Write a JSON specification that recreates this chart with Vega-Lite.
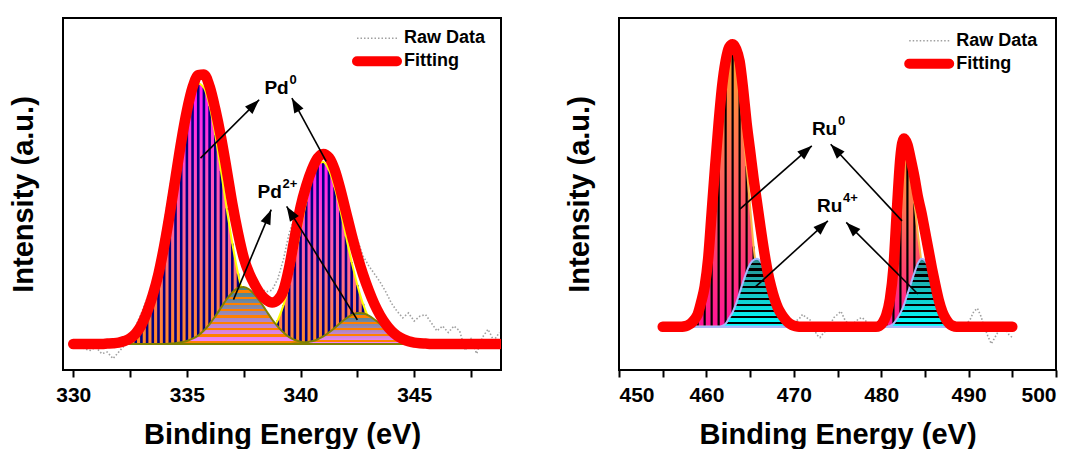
{
"$schema":"https://vega.github.io/schema/vega-lite/v6.json",
"background":"white",
"padding":{"left":8,"top":17,"right":0,"bottom":0},
"bounds":"flush",
"spacing":118,
"datasets":{
"L":[
{"x":330,"r":-1,"f":0,"a":0,"b":0,"c":0,"d":0},
{"x":330.25,"r":-0.5,"f":0,"a":0,"b":0,"c":0,"d":0},
{"x":330.5,"r":-1.5,"f":0,"a":0,"b":0,"c":0,"d":0},
{"x":330.75,"r":-2,"f":0,"a":0,"b":0,"c":0,"d":0},
{"x":331,"r":-1,"f":0,"a":0,"b":0,"c":0,"d":0},
{"x":331.25,"r":-3,"f":0,"a":0,"b":0,"c":0,"d":0},
{"x":331.5,"r":-2.5,"f":0.1,"a":0.1,"b":0,"c":0,"d":0},
{"x":331.75,"r":-4.5,"f":0.2,"a":0.2,"b":0,"c":0,"d":0},
{"x":332,"r":-2.5,"f":0.4,"a":0.4,"b":0,"c":0,"d":0},
{"x":332.25,"r":-0.5,"f":0.9,"a":0.9,"b":0,"c":0,"d":0},
{"x":332.5,"r":2,"f":1.7,"a":1.7,"b":0,"c":0,"d":0},
{"x":332.75,"r":5.5,"f":3.2,"a":3.1,"b":0,"c":0,"d":0},
{"x":333,"r":9.5,"f":5.8,"a":5.4,"b":0,"c":0,"d":0},
{"x":333.25,"r":14,"f":9.8,"a":9,"b":0,"c":0,"d":0},
{"x":333.5,"r":19,"f":15,"a":14.1,"b":0,"c":0,"d":0},
{"x":333.75,"r":27,"f":21.5,"a":21,"b":0,"c":0,"d":0},
{"x":334,"r":37,"f":30,"a":29.6,"b":0,"c":0,"d":0},
{"x":334.25,"r":48,"f":40,"a":39.8,"b":0,"c":0.1,"d":0},
{"x":334.5,"r":58,"f":51,"a":50.7,"b":0,"c":0.2,"d":0},
{"x":334.75,"r":67,"f":62,"a":61.4,"b":0,"c":0.5,"d":0},
{"x":335,"r":75,"f":71.5,"a":70.6,"b":0,"c":0.9,"d":0},
{"x":335.25,"r":80,"f":78.7,"a":77.1,"b":0,"c":1.6,"d":0},
{"x":335.5,"r":82,"f":82.5,"a":79.9,"b":0,"c":2.6,"d":0},
{"x":335.75,"r":81,"f":82.7,"a":78.6,"b":0,"c":4.1,"d":0},
{"x":336,"r":77,"f":79,"a":73,"b":0,"c":6.1,"d":0},
{"x":336.25,"r":70,"f":72,"a":64.1,"b":0,"c":8.5,"d":0},
{"x":336.5,"r":61,"f":63.5,"a":53.1,"b":0,"c":11.1,"d":0},
{"x":336.75,"r":52,"f":53.5,"a":41.6,"b":0,"c":13.7,"d":0},
{"x":337,"r":43,"f":43,"a":30.8,"b":0,"c":15.8,"d":0},
{"x":337.25,"r":36,"f":34,"a":21.6,"b":0,"c":17.2,"d":0},
{"x":337.5,"r":29,"f":26.5,"a":14.3,"b":0.1,"c":17.5,"d":0},
{"x":337.75,"r":24,"f":21.5,"a":8.9,"b":0.2,"c":16.7,"d":0},
{"x":338,"r":20,"f":18,"a":5.3,"b":0.5,"c":15,"d":0},
{"x":338.25,"r":17,"f":15.2,"a":2.9,"b":1.1,"c":12.7,"d":0},
{"x":338.5,"r":16,"f":13.5,"a":1.5,"b":2.2,"c":10.1,"d":0},
{"x":338.75,"r":16.5,"f":12.7,"a":0.8,"b":4.1,"c":7.5,"d":0},
{"x":339,"r":20,"f":13.5,"a":0.4,"b":7.3,"c":5.3,"d":0},
{"x":339.25,"r":26,"f":16.5,"a":0.2,"b":11.9,"c":3.5,"d":0},
{"x":339.5,"r":34,"f":23.5,"a":0.1,"b":18.3,"c":2.1,"d":0},
{"x":339.75,"r":39,"f":33,"a":0,"b":26.2,"c":1.2,"d":0.1},
{"x":340,"r":44,"f":42,"a":0,"b":35,"c":0.7,"d":0.2},
{"x":340.25,"r":50,"f":48.5,"a":0,"b":43.7,"c":0.4,"d":0.5},
{"x":340.5,"r":54,"f":53.5,"a":0,"b":50.8,"c":0.2,"d":0.8},
{"x":340.75,"r":57,"f":57,"a":0,"b":55.1,"c":0.1,"d":1.4},
{"x":341,"r":58,"f":58.3,"a":0,"b":55.8,"c":0,"d":2.3},
{"x":341.25,"r":57,"f":57.2,"a":0,"b":53.3,"c":0,"d":3.5},
{"x":341.5,"r":54,"f":53.5,"a":0,"b":48.1,"c":0,"d":4.9},
{"x":341.75,"r":49,"f":47.5,"a":0,"b":41,"c":0,"d":6.4},
{"x":342,"r":43,"f":40.5,"a":0,"b":33,"c":0,"d":7.8},
{"x":342.25,"r":37,"f":33.5,"a":0,"b":25.1,"c":0,"d":8.9},
{"x":342.5,"r":32,"f":27,"a":0,"b":18.1,"c":0,"d":9.5},
{"x":342.75,"r":27,"f":21.3,"a":0,"b":12.3,"c":0,"d":9.4},
{"x":343,"r":24,"f":16.4,"a":0,"b":7.9,"c":0,"d":8.7},
{"x":343.25,"r":21.5,"f":12.2,"a":0,"b":4.8,"c":0,"d":7.5},
{"x":343.5,"r":19,"f":8.8,"a":0,"b":2.7,"c":0,"d":6.1},
{"x":343.75,"r":16,"f":6.1,"a":0,"b":1.5,"c":0,"d":4.6},
{"x":344,"r":12.5,"f":4,"a":0,"b":0.8,"c":0,"d":3.2},
{"x":344.25,"r":10,"f":2.5,"a":0,"b":0.4,"c":0,"d":2.1},
{"x":344.5,"r":8,"f":1.5,"a":0,"b":0.2,"c":0,"d":1.3},
{"x":344.75,"r":9.5,"f":0.8,"a":0,"b":0.1,"c":0,"d":0.7},
{"x":345,"r":7,"f":0.4,"a":0,"b":0,"c":0,"d":0.4},
{"x":345.25,"r":8.5,"f":0.2,"a":0,"b":0,"c":0,"d":0.2},
{"x":345.5,"r":9,"f":0.1,"a":0,"b":0,"c":0,"d":0.1},
{"x":345.75,"r":6.5,"f":0,"a":0,"b":0,"c":0,"d":0},
{"x":346,"r":4,"f":0,"a":0,"b":0,"c":0,"d":0},
{"x":346.25,"r":5.5,"f":0,"a":0,"b":0,"c":0,"d":0},
{"x":346.5,"r":3.5,"f":0,"a":0,"b":0,"c":0,"d":0},
{"x":346.75,"r":5.5,"f":0,"a":0,"b":0,"c":0,"d":0},
{"x":347,"r":4,"f":0,"a":0,"b":0,"c":0,"d":0},
{"x":347.25,"r":-2,"f":0,"a":0,"b":0,"c":0,"d":0},
{"x":347.5,"r":1.5,"f":0,"a":0,"b":0,"c":0,"d":0},
{"x":347.75,"r":-3,"f":0,"a":0,"b":0,"c":0,"d":0},
{"x":348,"r":2,"f":0,"a":0,"b":0,"c":0,"d":0},
{"x":348.25,"r":4.5,"f":0,"a":0,"b":0,"c":0,"d":0},
{"x":348.5,"r":1,"f":0,"a":0,"b":0,"c":0,"d":0},
{"x":348.75,"r":3.5,"f":0,"a":0,"b":0,"c":0,"d":0}
],
"R":[
{"x":455,"r":0.3,"f":0,"a":0,"b":0,"c":0,"d":0},
{"x":455.4,"r":-0.3,"f":0,"a":0,"b":0,"c":0,"d":0},
{"x":455.8,"r":0.5,"f":0,"a":0,"b":0,"c":0,"d":0},
{"x":456.2,"r":0,"f":0,"a":0,"b":0,"c":0,"d":0},
{"x":456.6,"r":1,"f":0,"a":0,"b":0,"c":0,"d":0},
{"x":457,"r":1.5,"f":0,"a":0,"b":0,"c":0,"d":0},
{"x":457.4,"r":0.8,"f":0.1,"a":0,"b":0,"c":0,"d":0},
{"x":457.8,"r":1.5,"f":0.4,"a":0.2,"b":0,"c":0,"d":0},
{"x":458.2,"r":1.8,"f":1,"a":0.6,"b":0,"c":0,"d":0},
{"x":458.6,"r":3,"f":2.2,"a":1.6,"b":0,"c":0,"d":0},
{"x":459,"r":5,"f":4,"a":3,"b":0,"c":0,"d":0},
{"x":459.4,"r":8.5,"f":8,"a":6.5,"b":0,"c":0,"d":0},
{"x":459.8,"r":14,"f":13,"a":11,"b":0,"c":0,"d":0},
{"x":460.2,"r":23,"f":22,"a":19.5,"b":0,"c":0,"d":0},
{"x":460.6,"r":37,"f":37,"a":34,"b":0,"c":0,"d":0},
{"x":461,"r":52,"f":52,"a":49,"b":0,"c":0,"d":0},
{"x":461.4,"r":66,"f":66,"a":63,"b":0,"c":0,"d":0},
{"x":461.8,"r":78,"f":78,"a":75,"b":0,"c":0.3,"d":0},
{"x":462.2,"r":86,"f":86,"a":83,"b":0,"c":1,"d":0},
{"x":462.6,"r":90,"f":90.5,"a":87.5,"b":0,"c":2.8,"d":0},
{"x":463,"r":91,"f":91.5,"a":88.5,"b":0,"c":4.7,"d":0},
{"x":463.4,"r":90,"f":90,"a":86.5,"b":0,"c":7.5,"d":0},
{"x":463.8,"r":86,"f":86,"a":77,"b":0,"c":11,"d":0},
{"x":464.2,"r":77,"f":77,"a":64,"b":0,"c":14.5,"d":0},
{"x":464.6,"r":66,"f":66,"a":52,"b":0,"c":17.8,"d":0},
{"x":465,"r":57,"f":57,"a":39,"b":0,"c":20.3,"d":0},
{"x":465.4,"r":48,"f":48,"a":26,"b":0,"c":21.7,"d":0},
{"x":465.8,"r":40,"f":40,"a":17,"b":0,"c":22,"d":0},
{"x":466.2,"r":32,"f":32,"a":11,"b":0,"c":21.2,"d":0},
{"x":466.6,"r":25,"f":24.5,"a":6.5,"b":0,"c":19,"d":0},
{"x":467,"r":18,"f":18,"a":3.8,"b":0,"c":15.8,"d":0},
{"x":467.4,"r":13,"f":13,"a":2,"b":0,"c":12,"d":0},
{"x":467.8,"r":9,"f":9,"a":1,"b":0,"c":8.5,"d":0},
{"x":468.2,"r":6,"f":6,"a":0.4,"b":0,"c":5.5,"d":0},
{"x":468.6,"r":4,"f":4,"a":0.1,"b":0,"c":3.2,"d":0},
{"x":469,"r":2.5,"f":2.5,"a":0,"b":0,"c":1.6,"d":0},
{"x":469.4,"r":1.5,"f":1.3,"a":0,"b":0,"c":0.7,"d":0},
{"x":469.8,"r":1,"f":0.6,"a":0,"b":0,"c":0.2,"d":0},
{"x":470.2,"r":1.8,"f":0.2,"a":0,"b":0,"c":0,"d":0},
{"x":470.6,"r":2.5,"f":0,"a":0,"b":0,"c":0,"d":0},
{"x":471,"r":4,"f":0,"a":0,"b":0,"c":0,"d":0},
{"x":471.4,"r":3,"f":0,"a":0,"b":0,"c":0,"d":0},
{"x":471.8,"r":2.5,"f":0,"a":0,"b":0,"c":0,"d":0},
{"x":472.2,"r":0.5,"f":0,"a":0,"b":0,"c":0,"d":0},
{"x":472.6,"r":-2.5,"f":0,"a":0,"b":0,"c":0,"d":0},
{"x":473,"r":-3.5,"f":0,"a":0,"b":0,"c":0,"d":0},
{"x":473.4,"r":-2,"f":0,"a":0,"b":0,"c":0,"d":0},
{"x":473.8,"r":-1,"f":0,"a":0,"b":0,"c":0,"d":0},
{"x":474.2,"r":1,"f":0,"a":0,"b":0,"c":0,"d":0},
{"x":474.6,"r":3,"f":0,"a":0,"b":0,"c":0,"d":0},
{"x":475,"r":4,"f":0,"a":0,"b":0,"c":0,"d":0},
{"x":475.4,"r":5,"f":0,"a":0,"b":0,"c":0,"d":0},
{"x":475.8,"r":2.5,"f":0,"a":0,"b":0,"c":0,"d":0},
{"x":476.2,"r":1,"f":0,"a":0,"b":0,"c":0,"d":0},
{"x":476.6,"r":0.5,"f":0,"a":0,"b":0,"c":0,"d":0},
{"x":477,"r":1.5,"f":0,"a":0,"b":0,"c":0,"d":0},
{"x":477.4,"r":2.5,"f":0,"a":0,"b":0,"c":0,"d":0},
{"x":477.8,"r":3,"f":0,"a":0,"b":0,"c":0,"d":0},
{"x":478.2,"r":2,"f":0,"a":0,"b":0,"c":0,"d":0},
{"x":478.6,"r":0.5,"f":0,"a":0,"b":0,"c":0,"d":0},
{"x":479,"r":0.5,"f":0,"a":0,"b":0,"c":0,"d":0},
{"x":479.4,"r":1,"f":0,"a":0,"b":0,"c":0,"d":0},
{"x":479.8,"r":1.5,"f":0.3,"a":0,"b":0,"c":0,"d":0},
{"x":480.2,"r":2.5,"f":1.5,"a":0,"b":1,"c":0,"d":0},
{"x":480.6,"r":5,"f":4,"a":0,"b":3,"c":0,"d":0},
{"x":481,"r":10,"f":9,"a":0,"b":7.5,"c":0,"d":0.3},
{"x":481.4,"r":20,"f":19,"a":0,"b":17,"c":0,"d":1},
{"x":481.8,"r":38,"f":38,"a":0,"b":35,"c":0,"d":2.5},
{"x":482.2,"r":55,"f":55,"a":0,"b":50.5,"c":0,"d":4.5},
{"x":482.6,"r":61,"f":61,"a":0,"b":57,"c":0,"d":7},
{"x":483,"r":59,"f":59,"a":0,"b":55,"c":0,"d":10.5},
{"x":483.4,"r":54,"f":54,"a":0,"b":48,"c":0,"d":14},
{"x":483.8,"r":48.5,"f":48.5,"a":0,"b":40,"c":0,"d":17.5},
{"x":484.2,"r":42,"f":42,"a":0,"b":30,"c":0,"d":20.5},
{"x":484.6,"r":37,"f":37,"a":0,"b":21,"c":0,"d":22},
{"x":485,"r":31,"f":31,"a":0,"b":13,"c":0,"d":21.5},
{"x":485.4,"r":25,"f":25,"a":0,"b":7.5,"c":0,"d":19.5},
{"x":485.8,"r":19,"f":19,"a":0,"b":4,"c":0,"d":16.5},
{"x":486.2,"r":13.5,"f":13.5,"a":0,"b":2,"c":0,"d":12.5},
{"x":486.6,"r":8.5,"f":8.5,"a":0,"b":0.8,"c":0,"d":8.5},
{"x":487,"r":5,"f":4.8,"a":0,"b":0.3,"c":0,"d":4.8},
{"x":487.4,"r":2.5,"f":2.5,"a":0,"b":0,"c":0,"d":2.3},
{"x":487.8,"r":1.5,"f":1,"a":0,"b":0,"c":0,"d":0.9},
{"x":488.2,"r":1.5,"f":0.3,"a":0,"b":0,"c":0,"d":0.3},
{"x":488.6,"r":0.5,"f":0,"a":0,"b":0,"c":0,"d":0},
{"x":489,"r":0,"f":0,"a":0,"b":0,"c":0,"d":0},
{"x":489.4,"r":0.5,"f":0,"a":0,"b":0,"c":0,"d":0},
{"x":489.8,"r":1,"f":0,"a":0,"b":0,"c":0,"d":0},
{"x":490.2,"r":2.5,"f":0,"a":0,"b":0,"c":0,"d":0},
{"x":490.6,"r":5,"f":0,"a":0,"b":0,"c":0,"d":0},
{"x":491,"r":6,"f":0,"a":0,"b":0,"c":0,"d":0},
{"x":491.4,"r":3.5,"f":0,"a":0,"b":0,"c":0,"d":0},
{"x":491.8,"r":0,"f":0,"a":0,"b":0,"c":0,"d":0},
{"x":492.2,"r":-3,"f":0,"a":0,"b":0,"c":0,"d":0},
{"x":492.6,"r":-5.5,"f":0,"a":0,"b":0,"c":0,"d":0},
{"x":493,"r":-3.5,"f":0,"a":0,"b":0,"c":0,"d":0},
{"x":493.4,"r":-1.5,"f":0,"a":0,"b":0,"c":0,"d":0},
{"x":493.8,"r":0.5,"f":0,"a":0,"b":0,"c":0,"d":0},
{"x":494.2,"r":-0.5,"f":0,"a":0,"b":0,"c":0,"d":0},
{"x":494.6,"r":-2.5,"f":0,"a":0,"b":0,"c":0,"d":0},
{"x":495,"r":-3.5,"f":0,"a":0,"b":0,"c":0,"d":0}
],
"LA":[
{"x":335.6,"y":57.0,"x2":338.18,"y2":74.9},
{"x":341.13,"y":56.0,"x2":339.62,"y2":75.4},
{"x":337.05,"y":13.6,"x2":338.71,"y2":41.2},
{"x":342.5,"y":7.4,"x2":339.39,"y2":42.2}
],
"RA":[
{"x":463.83,"y":38.1,"x2":472.06,"y2":58.6},
{"x":482.38,"y":34.3,"x2":474.22,"y2":59.1},
{"x":465.6,"y":12.9,"x2":473.9,"y2":34.3},
{"x":484.2,"y":10.6,"x2":476.0,"y2":33.8}
],
"LT":[
{"x":338.41,"y":78.4,"t":"Pd","s":"0"},
{"x":338.11,"y":46.6,"t":"Pd","s":"2+"}
],
"RT":[
{"x":472.07,"y":64.0,"t":"Ru","s":"0"},
{"x":472.65,"y":39.2,"t":"Ru","s":"4+"}
]
},
"hconcat":[
{
"width":438,"height":352,
"layer":[
{"data":{"name":"L"},
"mark":{"type":"line","strokeDash":[1.5,2],"strokeWidth":1.6},
"encoding":{
"x":{"field":"x","type":"quantitative","scale":{"domain":[329.55,348.82],"nice":false,"zero":false}},
"y":{"field":"r","type":"quantitative","scale":{"domain":[-8,100],"nice":false,"zero":false}},
"color":{"datum":"Raw Data","type":"nominal","scale":{"domain":["Raw Data","Fitting"],"range":["#a0a0a0","#ff0000"]},
"legend":{"title":null,"orient":"none","legendX":305,"legendY":11.3,"symbolType":"stroke","symbolSize":1600,"labelFontSize":18,"labelFontWeight":"bold","labelFont":"Liberation Sans","labelColor":"black","labelOffset":18,"rowPadding":-6,"padding":0,
"encode":{"symbols":{"update":{"strokeDash":{"signal":"datum.value === 'Raw Data' ? [1.5,2] : [1,0]"},"strokeWidth":{"signal":"datum.value === 'Raw Data' ? 1.6 : 10"},"strokeCap":{"signal":"datum.value === 'Raw Data' ? 'butt' : 'round'"}}}}}}
}},
{"data":{"name":"L"},
"transform":[{"fold":["a","b"],"as":["k","v"]}],
"mark":{"type":"area","interpolate":"monotone","fill":{"gradient":"linear","x1":0,"y1":0,"x2":0,"y2":1,"stops":[{"offset":0,"color":"#ff14ff"},{"offset":0.35,"color":"#ff4fc0"},{"offset":0.65,"color":"#ff6d88"},{"offset":1,"color":"#ff8a24"}]}},
"encoding":{"x":{"field":"x","type":"quantitative"},"y":{"field":"v","type":"quantitative"},"y2":{"datum":0},"detail":{"field":"k"}}},
{"data":{"name":"L"},
"transform":[{"fold":["a","b"],"as":["k","v"]},{"filter":"datum.v > 0.5"}],
"mark":{"type":"rule","color":"#000080","strokeWidth":2.6},
"encoding":{"x":{"field":"x","type":"quantitative"},"y":{"field":"v","type":"quantitative"},"y2":{"datum":0}}},
{"data":{"name":"L"},
"transform":[{"fold":["a","b"],"as":["k","v"]}],
"mark":{"type":"line","interpolate":"monotone","color":"#ffff00","strokeWidth":2},
"encoding":{"x":{"field":"x","type":"quantitative"},"y":{"field":"v","type":"quantitative"},"detail":{"field":"k"}}},
{"data":{"name":"L"},
"mark":{"type":"area","interpolate":"monotone","stroke":"#808000","strokeWidth":2,"fill":{"gradient":"linear","x1":0,"y1":0,"x2":0,"y2":1,"stops":[
{"offset":0,"color":"#3f8585"},{"offset":0.06,"color":"#4b858b"},{"offset":0.06,"color":"#ff8000"},{"offset":0.1,"color":"#ff8000"},
{"offset":0.1,"color":"#52868f"},{"offset":0.17,"color":"#608696"},{"offset":0.17,"color":"#ff8000"},{"offset":0.21,"color":"#ff8000"},
{"offset":0.21,"color":"#68869a"},{"offset":0.28,"color":"#7587a2"},{"offset":0.28,"color":"#ff8000"},{"offset":0.32,"color":"#ff8000"},
{"offset":0.32,"color":"#7d87a6"},{"offset":0.39,"color":"#8b87ad"},{"offset":0.39,"color":"#ff8000"},{"offset":0.43,"color":"#ff8000"},
{"offset":0.43,"color":"#9288b1"},{"offset":0.5,"color":"#a088b8"},{"offset":0.5,"color":"#ff8000"},{"offset":0.54,"color":"#ff8000"},
{"offset":0.54,"color":"#a887be"},{"offset":0.61,"color":"#b586c8"},{"offset":0.61,"color":"#ff8000"},{"offset":0.65,"color":"#ff8000"},
{"offset":0.65,"color":"#bc86cd"},{"offset":0.72,"color":"#ca84d7"},{"offset":0.72,"color":"#ff8000"},{"offset":0.76,"color":"#ff8000"},
{"offset":0.76,"color":"#d184dd"},{"offset":0.83,"color":"#df83e7"},{"offset":0.83,"color":"#ff8000"},{"offset":0.87,"color":"#ff8000"},
{"offset":0.87,"color":"#e682ed"},{"offset":0.94,"color":"#f481f6"},{"offset":0.94,"color":"#ff8000"},{"offset":0.98,"color":"#ff8000"},
{"offset":0.98,"color":"#fb80fc"},{"offset":1,"color":"#ff80ff"}]}},
"encoding":{"x":{"field":"x","type":"quantitative"},"y":{"field":"c","type":"quantitative"},"y2":{"datum":0}}},
{"data":{"name":"L"},
"mark":{"type":"area","interpolate":"monotone","stroke":"#808000","strokeWidth":2,"fill":{"gradient":"linear","x1":0,"y1":0,"x2":0,"y2":1,"stops":[
{"offset":0,"color":"#3f8585"},{"offset":0.08,"color":"#4e858d"},{"offset":0.08,"color":"#ff8000"},{"offset":0.16,"color":"#ff8000"},
{"offset":0.16,"color":"#5e8695"},{"offset":0.28,"color":"#7587a2"},{"offset":0.28,"color":"#ff8000"},{"offset":0.36,"color":"#ff8000"},
{"offset":0.36,"color":"#8587aa"},{"offset":0.48,"color":"#9c88b6"},{"offset":0.48,"color":"#ff8000"},{"offset":0.56,"color":"#ff8000"},
{"offset":0.56,"color":"#ab87c0"},{"offset":0.68,"color":"#c285d2"},{"offset":0.68,"color":"#ff8000"},{"offset":0.76,"color":"#ff8000"},
{"offset":0.76,"color":"#d184dd"},{"offset":0.88,"color":"#e882ee"},{"offset":0.88,"color":"#ff8000"},{"offset":0.95,"color":"#ff8000"},
{"offset":0.95,"color":"#f581f8"},{"offset":1,"color":"#ff80ff"}]}},
"encoding":{"x":{"field":"x","type":"quantitative"},"y":{"field":"d","type":"quantitative"},"y2":{"datum":0}}},
{"data":{"name":"L"},
"mark":{"type":"line","interpolate":"monotone","strokeWidth":10.5,"strokeCap":"round","strokeJoin":"round","clip":true},
"encoding":{
"x":{"field":"x","type":"quantitative","axis":{"values":[330,332.5,335,337.5,340,342.5,345,347.5],"labelExpr":"datum.value % 5 === 0 ? datum.label : ''","title":"Binding Energy (eV)","tickSize":7,"labelPadding":7,"titlePadding":15,"domain":false,"grid":false,
"encode":{"ticks":{"update":{"y2":{"signal":"datum.value % 5 === 0 ? 7 : 4"}}}}}},
"y":{"field":"f","type":"quantitative","axis":{"title":"Intensity (a.u.)","ticks":false,"labels":false,"domain":false,"grid":false,"titlePadding":25}},
"color":{"datum":"Fitting","type":"nominal"}}},
{"data":{"name":"LA"},
"mark":{"type":"rule","color":"black","strokeWidth":1.6},
"encoding":{"x":{"field":"x","type":"quantitative"},"y":{"field":"y","type":"quantitative"},"x2":{"field":"x2"},"y2":{"field":"y2"}}},
{"data":{"name":"LA"},
"transform":[{"calculate":"atan2((datum.x2-datum.x)*22.73,(datum.y2-datum.y)*3.26)*180/PI","as":"ang"}],
"mark":{"type":"point","shape":"M0,0L-0.75,2.1L0.75,2.1Z","filled":true,"color":"black","opacity":1,"size":196,"strokeWidth":0},
"encoding":{"x":{"field":"x2","type":"quantitative"},"y":{"field":"y2","type":"quantitative"},"angle":{"field":"ang","type":"quantitative","scale":null}}},
{"data":{"name":"LT"},
"mark":{"type":"text","font":"Liberation Sans","fontWeight":"bold","fontSize":19,"color":"black","align":"left","baseline":"middle"},
"encoding":{"x":{"field":"x","type":"quantitative"},"y":{"field":"y","type":"quantitative"},"text":{"field":"t"}}},
{"data":{"name":"LT"},
"mark":{"type":"text","font":"Liberation Sans","fontWeight":"bold","fontSize":13,"color":"black","align":"left","baseline":"middle","dx":25,"dy":-8},
"encoding":{"x":{"field":"x","type":"quantitative"},"y":{"field":"y","type":"quantitative"},"text":{"field":"s"}}}
]
},
{
"width":437,"height":352,
"layer":[
{"data":{"name":"R"},
"mark":{"type":"line","strokeDash":[1.5,2],"strokeWidth":1.6},
"encoding":{
"x":{"field":"x","type":"quantitative","scale":{"domain":[450,500],"nice":false,"zero":false}},
"y":{"field":"r","type":"quantitative","scale":{"domain":[-14,100],"nice":false,"zero":false}},
"color":{"datum":"Raw Data","type":"nominal","scale":{"domain":["Raw Data","Fitting"],"range":["#a0a0a0","#ff0000"]},
"legend":{"title":null,"orient":"none","legendX":301.2,"legendY":13.7,"symbolType":"stroke","symbolSize":1600,"labelFontSize":18,"labelFontWeight":"bold","labelFont":"Liberation Sans","labelColor":"black","labelOffset":18,"rowPadding":-6,"padding":0,
"encode":{"symbols":{"update":{"strokeDash":{"signal":"datum.value === 'Raw Data' ? [1.5,2] : [1,0]"},"strokeWidth":{"signal":"datum.value === 'Raw Data' ? 1.6 : 10"},"strokeCap":{"signal":"datum.value === 'Raw Data' ? 'butt' : 'round'"}}}}}}
}},
{"data":{"name":"R"},
"transform":[{"fold":["a","b"],"as":["k","v"]}],
"mark":{"type":"area","interpolate":"monotone","fill":{"gradient":"linear","x1":0,"y1":0,"x2":0,"y2":1,"stops":[{"offset":0,"color":"#ffa030"},{"offset":0.4,"color":"#ff6a58"},{"offset":0.7,"color":"#ff4070"},{"offset":1,"color":"#ff1496"}]}},
"encoding":{"x":{"field":"x","type":"quantitative"},"y":{"field":"v","type":"quantitative"},"y2":{"datum":0},"detail":{"field":"k"}}},
{"data":{"name":"R"},
"transform":[{"window":[{"op":"row_number","as":"i"}]},{"filter":"datum.i % 2 == 1"},{"fold":["a","b"],"as":["k","v"]},{"filter":"datum.v > 0.5"}],
"mark":{"type":"rule","color":"black","strokeWidth":2.2},
"encoding":{"x":{"field":"x","type":"quantitative"},"y":{"field":"v","type":"quantitative"},"y2":{"datum":0}}},
{"data":{"name":"R"},
"transform":[{"fold":["a","b"],"as":["k","v"]}],
"mark":{"type":"line","interpolate":"monotone","color":"#ffb347","strokeWidth":2},
"encoding":{"x":{"field":"x","type":"quantitative"},"y":{"field":"v","type":"quantitative"},"detail":{"field":"k"}}},
{"data":{"name":"R"},
"transform":[{"fold":["c","d"],"as":["k","v"]}],
"mark":{"type":"area","interpolate":"monotone","stroke":"#a8b8ff","strokeWidth":2,"fill":{"gradient":"linear","x1":0,"y1":0,"x2":0,"y2":1,"stops":[
{"offset":0,"color":"#2a8a8a"},{"offset":0.055,"color":"#289090"},{"offset":0.055,"color":"#000000"},{"offset":0.087,"color":"#000000"},
{"offset":0.087,"color":"#269494"},{"offset":0.142,"color":"#249b9b"},{"offset":0.142,"color":"#000000"},{"offset":0.174,"color":"#000000"},
{"offset":0.174,"color":"#239e9e"},{"offset":0.229,"color":"#20a5a5"},{"offset":0.229,"color":"#000000"},{"offset":0.261,"color":"#000000"},
{"offset":0.261,"color":"#1fa9a9"},{"offset":0.316,"color":"#1dafaf"},{"offset":0.316,"color":"#000000"},{"offset":0.348,"color":"#000000"},
{"offset":0.348,"color":"#1bb3b3"},{"offset":0.403,"color":"#19b9b9"},{"offset":0.403,"color":"#000000"},{"offset":0.435,"color":"#000000"},
{"offset":0.435,"color":"#18bdbd"},{"offset":0.49,"color":"#15c3c3"},{"offset":0.49,"color":"#000000"},{"offset":0.522,"color":"#000000"},
{"offset":0.522,"color":"#14c7c7"},{"offset":0.577,"color":"#12cece"},{"offset":0.577,"color":"#000000"},{"offset":0.609,"color":"#000000"},
{"offset":0.609,"color":"#10d1d1"},{"offset":0.664,"color":"#0ed8d8"},{"offset":0.664,"color":"#000000"},{"offset":0.696,"color":"#000000"},
{"offset":0.696,"color":"#0ddbdb"},{"offset":0.751,"color":"#0ae2e2"},{"offset":0.751,"color":"#000000"},{"offset":0.783,"color":"#000000"},
{"offset":0.783,"color":"#09e6e6"},{"offset":0.838,"color":"#07ecec"},{"offset":0.838,"color":"#000000"},{"offset":0.87,"color":"#000000"},
{"offset":0.87,"color":"#05f0f0"},{"offset":0.925,"color":"#03f6f6"},{"offset":0.925,"color":"#000000"},{"offset":0.957,"color":"#000000"},
{"offset":0.957,"color":"#02fafa"},{"offset":1,"color":"#00ffff"}]}},
"encoding":{"x":{"field":"x","type":"quantitative"},"y":{"field":"v","type":"quantitative"},"y2":{"datum":0},"detail":{"field":"k"}}},
{"data":{"name":"R"},
"mark":{"type":"line","interpolate":"monotone","strokeWidth":10.5,"strokeCap":"round","strokeJoin":"round"},
"encoding":{
"x":{"field":"x","type":"quantitative","axis":{"values":[450,455,460,465,470,475,480,485,490,495,500],"labelExpr":"datum.value % 10 === 0 ? datum.label : ''","title":"Binding Energy (eV)","tickSize":7,"labelPadding":7,"titlePadding":15,"domain":false,"grid":false,
"encode":{"ticks":{"update":{"y2":{"signal":"datum.value % 10 === 0 ? 7 : 4"}}}}}},
"y":{"field":"f","type":"quantitative","axis":{"title":"Intensity (a.u.)","ticks":false,"labels":false,"domain":false,"grid":false,"titlePadding":25}},
"color":{"datum":"Fitting","type":"nominal"}}},
{"data":{"name":"RA"},
"mark":{"type":"rule","color":"black","strokeWidth":1.6},
"encoding":{"x":{"field":"x","type":"quantitative"},"y":{"field":"y","type":"quantitative"},"x2":{"field":"x2"},"y2":{"field":"y2"}}},
{"data":{"name":"RA"},
"transform":[{"calculate":"atan2((datum.x2-datum.x)*8.74,(datum.y2-datum.y)*3.09)*180/PI","as":"ang"}],
"mark":{"type":"point","shape":"M0,0L-0.75,2.1L0.75,2.1Z","filled":true,"color":"black","opacity":1,"size":196,"strokeWidth":0},
"encoding":{"x":{"field":"x2","type":"quantitative"},"y":{"field":"y2","type":"quantitative"},"angle":{"field":"ang","type":"quantitative","scale":null}}},
{"data":{"name":"RT"},
"mark":{"type":"text","font":"Liberation Sans","fontWeight":"bold","fontSize":19,"color":"black","align":"left","baseline":"middle"},
"encoding":{"x":{"field":"x","type":"quantitative"},"y":{"field":"y","type":"quantitative"},"text":{"field":"t"}}},
{"data":{"name":"RT"},
"mark":{"type":"text","font":"Liberation Sans","fontWeight":"bold","fontSize":13,"color":"black","align":"left","baseline":"middle","dx":26,"dy":-8},
"encoding":{"x":{"field":"x","type":"quantitative"},"y":{"field":"y","type":"quantitative"},"text":{"field":"s"}}}
]
}
],
"resolve":{"scale":{"color":"independent"},"legend":{"color":"independent"}},
"config":{
"view":{"stroke":"black","strokeWidth":2},
"font":"Liberation Sans",
"axis":{"labelFont":"Liberation Sans","labelFontSize":21,"labelFontWeight":"bold","labelColor":"black","titleFont":"Liberation Sans","titleFontSize":29,"titleFontWeight":"bold","titleColor":"black","tickColor":"black","tickWidth":2,"grid":false,"domain":false}
}
}
